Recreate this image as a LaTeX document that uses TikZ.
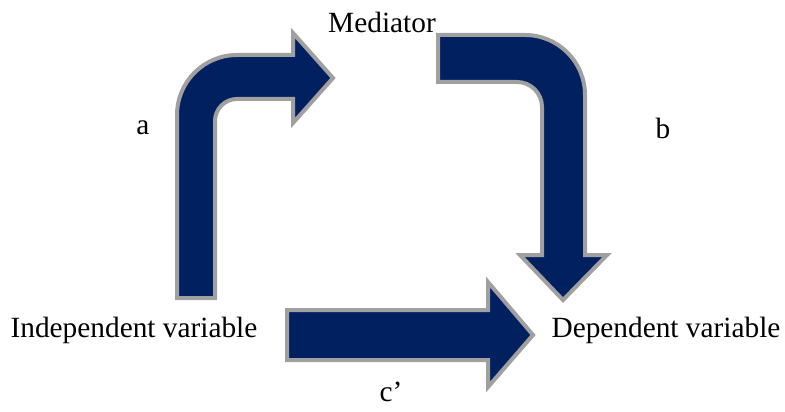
\documentclass[tikz,border=0pt]{standalone}
\usepackage{fontspec}
\setmainfont{Liberation Serif}
\usepackage{tikz}
\usetikzlibrary{positioning}
\definecolor{navy}{RGB}{0,32,96}
\definecolor{rimgray}{RGB}{160,160,160}
\tikzset{
x=0.75pt, y=0.75pt, % one unit is one pixel of the reference
blockarrow/.style={fill=navy, draw=rimgray, line width=3pt, line join=miter}, % the fat arrows
varnode/.style={font=\fontsize{22}{26}\selectfont, inner sep=0pt}, % variable names
pathnode/.style={font=\fontsize{22}{26}\selectfont, inner sep=0pt}, % path letters
}
\begin{document}
\begin{tikzpicture}
  \useasboundingbox (0,0) rectangle (785,411);

  \node[varnode] (med) at (382,389) {Mediator};
  \node[varnode] (iv) at (134,81) {Independent variable};
  \node[varnode] (dv) at (666,81) {Dependent variable};
  \node[pathnode] (a) at (143,283) {a};
  \node[pathnode] (b) at (663,283) {b};
  \node[pathnode] (c) at (391,19) {c’};

  % path a: independent -> mediator
  \draw[blockarrow] (177,113) -- (177,296) arc[start angle=180, end angle=90, radius=60]
    -- (293,356) -- (293,378) -- (333,333) -- (293,288) -- (293,312) -- (237,312)
    arc[start angle=90, end angle=180, radius=22] -- (215,113) -- cycle;
  % path b: mediator -> dependent
  \draw[blockarrow] (438,376) -- (525,376) arc[start angle=90, end angle=0, radius=60]
    -- (585,156) -- (607,156) -- (563,111) -- (520,156) -- (542,156) -- (542,304)
    arc[start angle=0, end angle=90, radius=25] -- (438,329) -- cycle;
  % path c': independent -> dependent
  \draw[blockarrow] (287,51) -- (287,101) -- (488,101) -- (488,129) -- (533,76)
    -- (488,24) -- (488,51) -- cycle;
\end{tikzpicture}
\end{document}
